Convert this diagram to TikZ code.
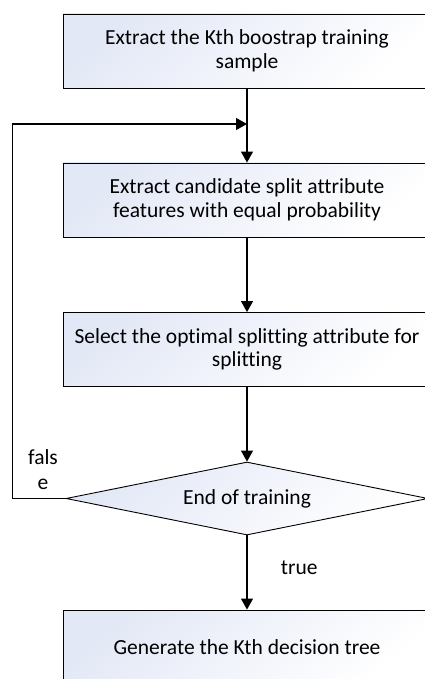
\documentclass[tikz,border=0pt]{standalone}
\usepackage{fontspec}
\setmainfont{Carlito}[Ligatures=NoCommon]
\usepackage{xcolor}
\usetikzlibrary{arrows.meta,shapes.geometric}

\definecolor{boxblue}{HTML}{E3E8F6}

\tikzset{
  stepbox/.style={draw=black,line width=0.9pt,minimum width=368pt,minimum height=74pt,
    inner sep=0pt,align=center,top color=boxblue,bottom color=white,
    shading angle=40,font=\fontsize{21.5}{23.5}\selectfont},
  testbox/.style={draw=black,line width=0.9pt,diamond,minimum width=362pt,minimum height=73pt,
    inner sep=0pt,aspect=5,top color=boxblue,bottom color=white,shading angle=40,
    font=\fontsize{21.5}{23.5}\selectfont},
  flow/.style={line width=1.2pt,-{Triangle[width=12pt,length=11pt]}},
  lbl/.style={font=\fontsize{21.5}{25}\selectfont,align=center}
}

\begin{document}
\begin{tikzpicture}[x=1pt,y=-1pt]
  \useasboundingbox (0,0) rectangle (424,679);
  \node[stepbox] (sample) at (247,51) {Extract the Kth boostrap training\\sample};
  \node[stepbox] (features) at (247,200) {Extract candidate split attribute\\features with equal probability};
  \node[stepbox] (select) at (247,349.5) {Select the optimal splitting attribute for\\splitting};
  \node[testbox] (stop) at (247,498.5) {End of training};
  \node[stepbox] (tree) at (247,647) {Generate the Kth decision tree};
  \coordinate (join) at (247,124);

  \draw[flow] (sample) -- (features);
  \draw[flow] (features) -- (select);
  \draw[flow] (select) -- (stop);
  \draw[flow] (stop) -- node[lbl,pos=0.43,right=30pt] (truelbl) {true} (tree);
  \draw[flow] (stop.west) -- ++(-53,0) |- (join);
  \node[lbl] (falselbl) at (43,470) {fals\\e};
\end{tikzpicture}
\end{document}
